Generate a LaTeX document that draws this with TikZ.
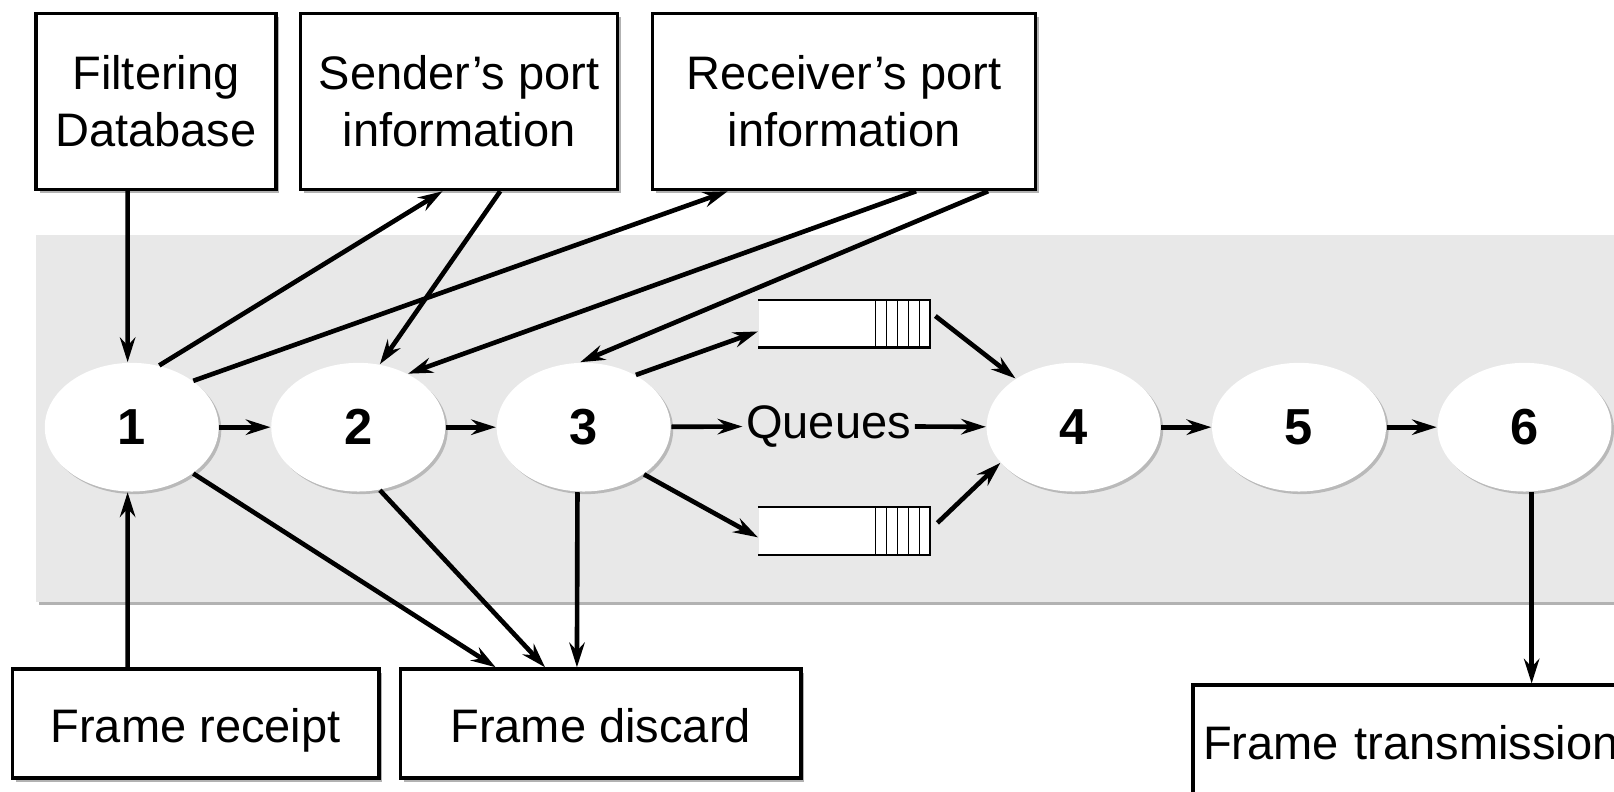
\documentclass[tikz,border=0pt]{standalone}
\usepackage{fontspec}
\setmainfont{Liberation Sans}
\usetikzlibrary{shapes.geometric,shadows,arrows.meta}

\tikzset{
  infobox/.style={draw,line width=0.35mm,fill=white,align=center,inner sep=0pt,
    general shadow={fill=gray!60,shadow xshift=0.35mm,shadow yshift=-0.35mm}},
  oneline/.style={text height=4mm,text depth=0.3mm},
  stage/.style={ellipse,fill=white,minimum width=16.9mm,minimum height=12.5mm,inner sep=0pt,
    font=\fontsize{14}{16}\selectfont\bfseries,
    general shadow={fill=gray!55,shadow xshift=0.25mm,shadow yshift=-0.25mm}},
  queue/.style={fill=white,minimum width=16.6mm,minimum height=4.5mm,inner sep=0pt},
  arr/.style={line width=0.45mm,-{Stealth[length=2.4mm,width=1.5mm,inset=0.8mm]}},
}

\begin{document}
\begin{tikzpicture}[x=0.1mm,y=-0.1mm,font=\fontsize{13}{15.6}\selectfont]
\useasboundingbox (0,0) rectangle (1568,769);

% bridge band
\path[fill=gray!18,general shadow={fill=gray!60,shadow xshift=0.3mm,shadow yshift=-0.3mm}] (35,228) rectangle (1620,585);

% information boxes
\node[infobox,minimum width=23.3mm,minimum height=17.1mm] (fdb) at (151.5,98.5) {Filtering\\Database};
\node[infobox,minimum width=30.8mm,minimum height=17.1mm] (sport) at (446,98.5) {Sender's port\\information};
\node[infobox,minimum width=37.2mm,minimum height=17.1mm] (rport) at (820,98.5) {Receiver's port\\information};
\node[infobox,oneline,minimum width=35.6mm,minimum height=10.6mm] (receipt) at (190,703) {Frame receipt};
\node[infobox,oneline,minimum width=38.9mm,minimum height=10.6mm] (discard) at (583.5,703) {Frame discard};
\node[infobox,oneline,anchor=north west,minimum height=10.8mm,text width=48mm,align=left,inner xsep=1mm] (trans) at (1157,664) {Frame transmission};

% stages
\foreach \n/\x in {1/128,2/348,3/567,4/1043,5/1262,6/1481}
  \node[stage] (e\n) at (\x,415) {\n};

% queues
\node[inner xsep=0.3mm,inner ysep=0.1mm] (qtext) at (805,414) {Queues};
\node[queue] (qup) at (820,314.5) {};
\node[queue] (qlo) at (820,516) {};
\foreach \q in {qup,qlo}{
  \draw[line width=0.22mm] (\q.north west) -- (\q.north east) -- (\q.south east) -- (\q.south west);
  \foreach \k in {1,...,5}
    \draw[line width=0.15mm] ([xshift=-\k*1.06mm]\q.north east) -- ([xshift=-\k*1.06mm]\q.south east);
}

% main flow
\draw[arr] (e1) -- (e2);
\draw[arr] (e2) -- (e3);
\draw[arr] (e3) -- (qtext);
\draw[arr] (qtext) -- (e4);
\draw[arr] (e4) -- (e5);
\draw[arr] (e5) -- (e6);

% lookups
\draw[arr] ([xshift=-2.75mm]fdb.south) -- ([xshift=-0.4mm]e1.north);
\draw[arr] ([xshift=-6.6mm]receipt.north) -- ([xshift=-0.4mm]e1.south);
\draw[arr] (e1.66) -- ([xshift=-1.6mm]sport.south);
\draw[arr] ([xshift=4mm]sport.south) -- (e2.71);
\draw[arr] (e1.37) -- ([xshift=-11.3mm]rport.south);
\draw[arr] ([xshift=7mm]rport.south) -- (e2.47);
\draw[arr] ([xshift=14mm]rport.south) -- (e3.93);

% queueing
\draw[arr] (e3.45) -- ([yshift=-0.75mm]qup.west);
\draw[arr] ([xshift=0.5mm,yshift=0.75mm]qup.east) -- (e4.140);
\draw[arr] (e3.-38) -- ([yshift=-0.6mm]qlo.west);
\draw[arr] ([xshift=0.7mm,yshift=0.8mm]qlo.east) -- (e4.-154);

% discard and transmit
\draw[arr] (e1.-37) -- ([xshift=-10.2mm]discard.north);
\draw[arr] (e2.-71) -- ([xshift=-5.4mm]discard.north);
\draw[arr] ([xshift=-0.6mm]e3.south) -- ([xshift=-2.3mm]discard.north);
\coordinate (t6) at ([xshift=0.7mm]e6.south);
\draw[arr] (t6) -- (t6 |- trans.north);
\end{tikzpicture}
\end{document}
